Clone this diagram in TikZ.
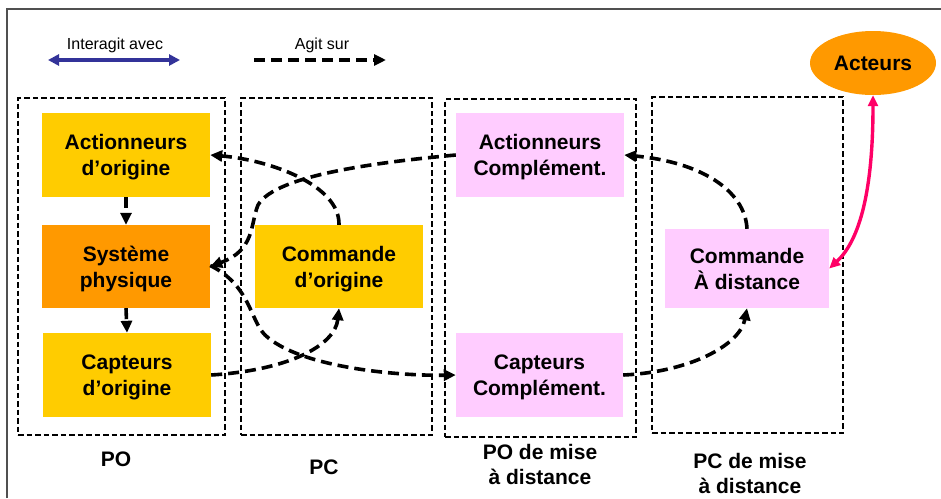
\documentclass[tikz,border=0pt]{standalone}
\usepackage{fontspec}
\setmainfont{Liberation Sans}
\usetikzlibrary{arrows.meta,shapes.geometric}
\definecolor{cgold}{HTML}{FFCC00}
\definecolor{corange}{HTML}{FF9900}
\definecolor{cpink}{HTML}{FFCCFF}
\definecolor{cblue}{HTML}{333399}
\definecolor{cmag}{HTML}{FF0066}
\definecolor{cframe}{HTML}{505050}
\begin{document}
\begin{tikzpicture}[x=1pt,y=-1pt,
  box/.style={rectangle, inner sep=0pt, align=center, text depth=0pt,
    font=\fontsize{21}{26}\selectfont\bfseries},
  zone/.style={draw, line width=1.8pt, dash pattern=on 5.5pt off 3pt,
    rectangle, inner sep=0pt},
  flow/.style={line width=3.6pt, dash pattern=on 11pt off 6pt,
    -{Triangle[length=12pt,width=11pt]}},
  lbl/.style={align=center, font=\fontsize{21}{25}\selectfont\bfseries},
  leg/.style={font=\fontsize{16}{18}\selectfont}]
\useasboundingbox (0,0) rectangle (941,498);
% outer frame
\draw[cframe, line width=1.6pt] (7,498) -- (7,9) -- (941,9);

% legend
\node[leg] (legI) at (115,45) {Interagit avec};
\node[leg] (legA) at (322,45) {Agit sur};
\coordinate (bA) at (48,60);
\coordinate (bB) at (180,60);
\draw[cblue, line width=3.4pt, {Triangle[length=11pt,width=11pt]}-{Triangle[length=11pt,width=11pt]}] (bA) -- (bB);
\coordinate (dA) at (254,60);
\coordinate (dB) at (386,60);
\draw[flow] (dA) -- (dB);

% zones
\node[zone, minimum width=207pt, minimum height=337pt] (zPO) at (121.5,266.5) {};
\node[zone, minimum width=191pt, minimum height=337pt] (zPC) at (336.5,266.5) {};
\node[zone, minimum width=191pt, minimum height=338pt] (zPOd) at (540.5,268) {};
\node[zone, minimum width=191pt, minimum height=336pt] (zPCd) at (747.5,265) {};

% boxes
\node[box, fill=cgold, minimum width=168pt, minimum height=84pt] (actO) at (126,155) {Actionneurs\\d’origine};
\node[box, fill=corange, minimum width=168pt, minimum height=83pt] (sys) at (126,266.5) {Système\\physique};
\node[box, fill=cgold, minimum width=168pt, minimum height=84pt] (capO) at (127,375) {Capteurs\\d’origine};
\node[box, fill=cgold, minimum width=168pt, minimum height=83pt] (cmdO) at (339,266.5) {Commande\\d’origine};
\node[box, fill=cpink, minimum width=168pt, minimum height=84pt] (actC) at (540,155) {Actionneurs\\Complément.};
\node[box, fill=cpink, minimum width=167pt, minimum height=84pt] (capC) at (539.5,375) {Capteurs\\Complément.};
\node[box, fill=cpink, minimum width=164pt, minimum height=79pt] (cmdD) at (747,268.5) {Commande\\À distance};
\node[box, ellipse, fill=corange, minimum width=126pt, minimum height=64pt] (act) at (873,63) {Acteurs};

% zone labels
\node[lbl] (lPO) at (116,459) {PO};
\node[lbl] (lPC) at (324,467) {PC};
\node[lbl] (lPOd) at (540,464) {PO de mise\\à distance};
\node[lbl] (lPCd) at (750,473) {PC de mise\\à distance};

% connectors
\draw[flow] (actO.south) -- (sys.north);
\draw[flow] (sys.south) -- (capO.north);
\draw[flow] (cmdO.north) .. controls (340,185) and (270,160) .. (actO.east);
\draw[flow] (actC.west) .. controls (380,162) and (275,175) .. (258,205)
  .. controls (250,225) and (255,250) .. (sys.east);
\draw[flow] (capO.east) .. controls (290,370) and (335,345) .. (cmdO.south);
\draw[flow] ([yshift=1pt]sys.east) .. controls (250,285) and (250,320) .. (265,335)
  .. controls (300,368) and (400,376) .. (capC.west);
\draw[flow] (cmdD.north) .. controls (745,190) and (700,162) .. (actC.east);
\draw[flow] (capC.east) .. controls (690,372) and (740,345) .. (cmdD.south);
\draw[cmag, line width=3.4pt, {Triangle[length=11pt,width=10pt]}-{Triangle[length=11pt,width=10pt]}]
  (act.south) .. controls (873,190) and (860,240) .. (cmdD.east);
\end{tikzpicture}
\end{document}
